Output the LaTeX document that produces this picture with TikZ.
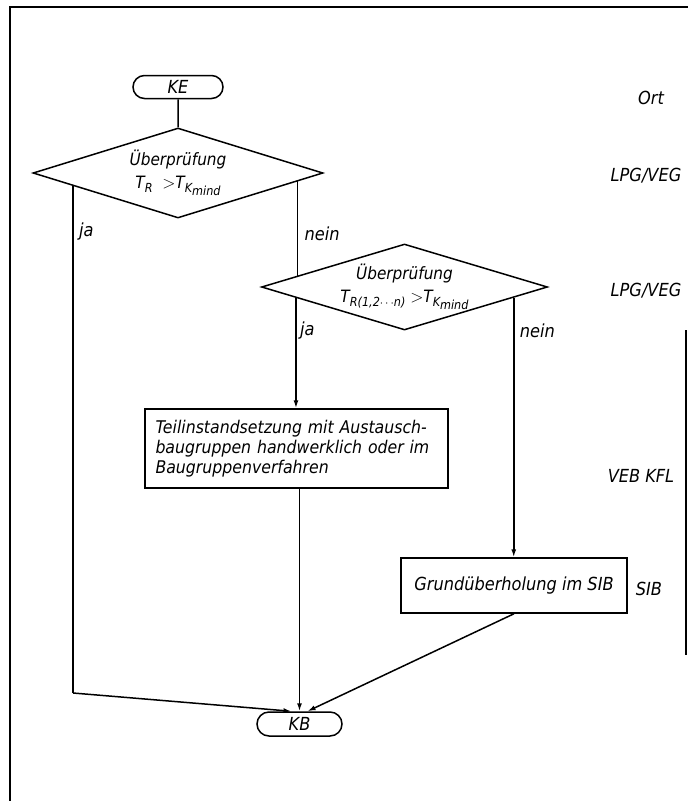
\documentclass[tikz,border=0pt]{standalone}
\usepackage{fontspec}
\setmainfont{DejaVu Sans Condensed}
\usetikzlibrary{shapes.geometric, shapes.misc, arrows.meta, calc}

\newcommand{\tsub}[1]{\raisebox{-0.45ex}{\fontsize{12.5}{12.5}\selectfont #1}}

\begin{document}
\begin{tikzpicture}[x=1pt, y=-1pt, line width=1.5pt,
		every node/.style={font=\fontsize{18}{20}\selectfont\itshape},
		term/.style={draw, rounded rectangle, minimum width=90pt, minimum height=23pt, inner sep=0pt},
		check/.style={draw, diamond, aspect=3.2, inner sep=0pt, align=center, font=\fontsize{17}{23}\selectfont\itshape},
		work/.style={draw, rectangle, inner sep=0pt},
		flow/.style={-{Latex[length=8pt, width=5pt]}}]
			\useasboundingbox (0,0) rectangle (688,801);

			% Draw the frame
			\draw[line width=1.6pt] (10,801) -- (10,7) -- (688,7);
			\draw[line width=1.2pt] (686,330) -- (686,655);

			% Draw the terminals
			\node[term] (ke) at (178,87) {KE};
			\node[term, minimum width=85pt, minimum height=24pt] (kb) at (299.5,724) {KB};

			% Draw the two checks
			\node[check, minimum width=290pt, minimum height=90pt] (d1) at (178,173)
				{\"Uberpr\"ufung\\T\tsub{R} \ $>$T\tsub{K\tsub{mind}}};
			\node[check, minimum width=286pt, minimum height=86pt] (d2) at (404.5,287)
				{\"Uberpr\"ufung\\T\tsub{R(1,2$\cdots$n)} $>$T\tsub{K\tsub{mind}}};

			% Draw the boxes
			\node[work, minimum height=79pt, text width=282pt, inner xsep=10.5pt, align=left,
				font=\fontsize{17.5}{20}\selectfont\itshape] (teil) at (296.5,448.5)
				{Teilinstandsetzung mit Austausch-\\baugruppen handwerklich oder im\\Baugruppenverfahren};
			\node[work, minimum width=226pt, minimum height=55pt] (grund) at (514,585.5)
				{Grund\"uberholung im SIB};

			% Draw the places on the right
			\node (ort) at (651,98) {Ort};
			\node (lpg1) at (646,176) {LPG/VEG};
			\node (lpg2) at (646,291) {LPG/VEG};
			\node (veb) at (641,476) {VEB KFL};
			\node (sib) at (649,589) {SIB};

			% Draw the lines between the nodes
			\draw (ke) -- (d1.north);

			\coordinate (j1) at ($(d1.west)!0.28!(d1.south)$);
			\coordinate (n1) at ($(d1.east)!0.18!(d1.south)$);
			\coordinate (n2) at ($(d2.west)!0.245!(d2.north)$);
			\coordinate (j2) at ($(d2.west)!0.245!(d2.south)$);
			\coordinate (n3) at ($(d2.east)!0.24!(d2.south)$);
			\coordinate (bend) at (j1 |- 0,693);

			\draw (j1) -- (bend) node[pos=0.09, right, xshift=2pt] (ja1) {ja};
			\draw[flow] (bend) -- ([xshift=-8pt]kb.north);
			\draw (n1) -- (n1 |- n2) node[pos=0.55, right, xshift=3pt] (nein1) {nein};

			\draw[flow] (j2) -- (j2 |- teil.north) node[pos=0.3, right, xshift=0pt] (ja2) {ja};
			\draw[flow] (n3) -- (n3 |- grund.north) node[pos=0.13, right, xshift=2pt] (nein2) {nein};

			\draw[flow] (teil.south -| kb.north) -- (kb.north);
			\draw[flow] (grund.south) -- ([xshift=8pt]kb.north);

		\end{tikzpicture}
\end{document}
